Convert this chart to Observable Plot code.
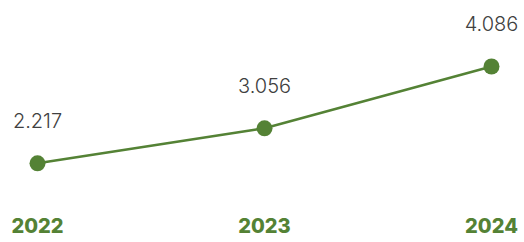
<!DOCTYPE html>
<html>
<head>
<meta charset="utf-8">
<script src="https://cdn.jsdelivr.net/npm/d3@7"></script>
<script src="https://cdn.jsdelivr.net/npm/@observablehq/plot@0.6"></script>
<style>
  html, body { margin: 0; padding: 0; background: #fff; }
  #chart svg { display: block; }
</style>
</head>
<body>
<div id="chart"></div>
<script>
const years = ["2022", "2023", "2024"];
const values = [2.217, 3.056, 4.086];
const valueLabels = ["2.217", "3.056", "4.086"];

const data = years.map((y, i) => ({year: y, value: values[i], label: valueLabels[i]}));
const green = "#548235";

const chart = Plot.plot({
  width: 524,
  height: 242,
  marginLeft: 37,
  marginRight: 33,
  marginTop: 35,
  marginBottom: 51,
  style: {fontFamily: "Inter, 'Open Sans', sans-serif", background: "#fff"},
  x: {type: "point", domain: years, padding: 0, axis: null},
  y: {type: "pow", exponent: 2.2, domain: [1, 4.5], axis: null},
  marks: [
    Plot.line(data, {x: "year", y: "value", stroke: green, strokeWidth: 2.5}),
    Plot.dot(data, {x: "year", y: "value", r: 8, fill: green, stroke: "none"}),
    Plot.text(data, {x: "year", y: "value", text: "label", dy: -42, fontSize: 20, fontWeight: 300, fill: "#404040"}),
    Plot.text(data, {x: "year", text: "year", frameAnchor: "bottom", dy: 41, fontSize: 20, fontWeight: 800, fill: green})
  ]
});
document.getElementById("chart").appendChild(chart);
</script>
</body>
</html>
